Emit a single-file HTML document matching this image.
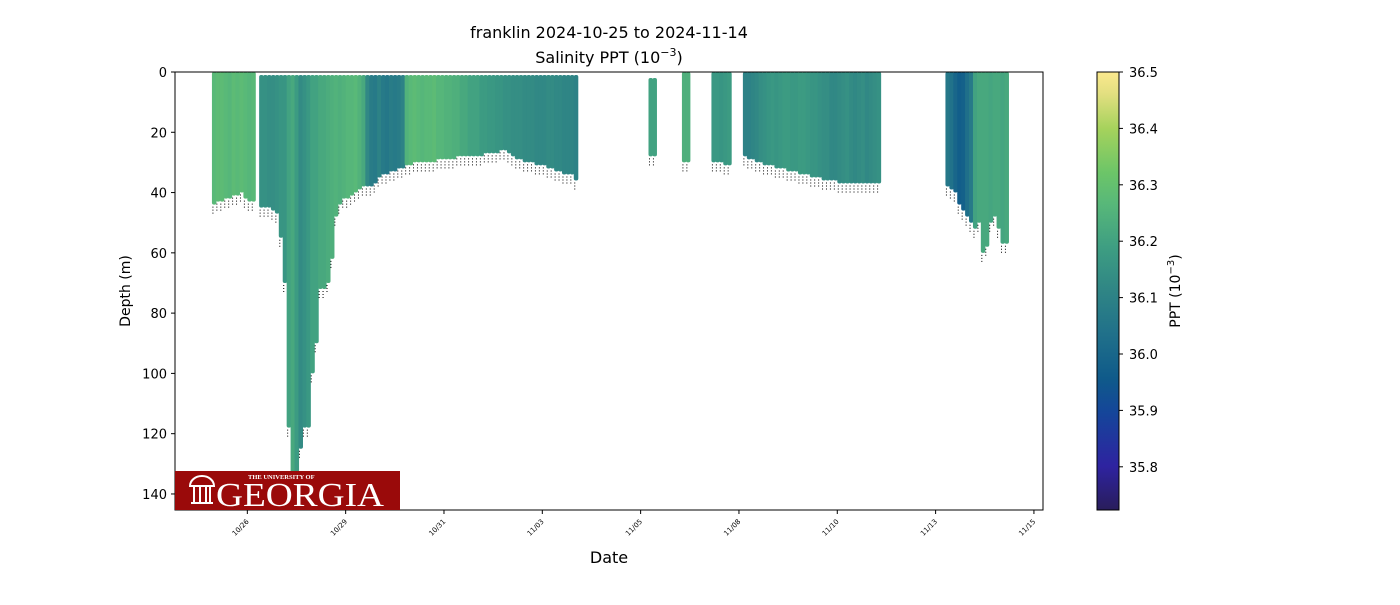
<!DOCTYPE html>
<html><head><meta charset="utf-8"><style>
body{margin:0;background:#fff;font-family:"Liberation Sans","DejaVu Sans",sans-serif}
</style></head><body>
<svg id="chart" width="1400" height="600" xmlns="http://www.w3.org/2000/svg" font-family="DejaVu Sans, Liberation Sans, sans-serif">
<defs><linearGradient id="cbgrad" x1="0" y1="1" x2="0" y2="0"></linearGradient>
<clipPath id="plotclip"><rect x="175" y="72" width="868" height="438"/></clipPath></defs>
<text x="609" y="38" font-size="16" text-anchor="middle">franklin 2024-10-25 to 2024-11-14</text>
<text x="609" y="63" font-size="16" text-anchor="middle">Salinity PPT (10<tspan dy="-7" font-size="11">−3</tspan><tspan dy="7">)</tspan></text>
<g id="marks" clip-path="url(#plotclip)"></g>
<g id="axes"></g>
<g>
<rect x="175" y="471" width="225" height="39" fill="#9a0a0a"/>
<text x="248" y="479" font-family="Liberation Serif, serif" font-size="6.5" fill="#fff" font-weight="bold">THE UNIVERSITY OF</text>
<text x="216" y="506" font-family="Liberation Serif, serif" font-size="34" fill="#fff" textLength="168" lengthAdjust="spacingAndGlyphs">GEORGIA</text>
<path d="M191 504h22v-2h-22zM193 502v-16h2v16zM199 502v-16h2v16zM205 502v-16h2v16zM211 502v-16h-2v16z" fill="#fff"/>
<path d="M190 486a12 10 0 0 1 24 0z" fill="none" stroke="#fff" stroke-width="2"/>
</g>
<text x="609" y="563" font-size="16" text-anchor="middle">Date</text>
<text x="130" y="291" font-size="14" text-anchor="middle" transform="rotate(-90 130 291)">Depth (m)</text>
<rect x="1097" y="72" width="22" height="438" fill="url(#cbgrad)" stroke="#000" stroke-width="1"/>
<g id="cbticks"></g>
<text x="1180" y="291" font-size="14" text-anchor="middle" transform="rotate(-90 1180 291)">PPT (10<tspan dy="-6" font-size="10">−3</tspan><tspan dy="6">)</tspan></text>
</svg>
<script>
// x-axis ticks (days since 2024-10-25 00:00)
const xTickDays=[1,3.5,6,8.5,11,13.5,16,18.5,21];
const xTickLabels=["10/26","10/29","10/31","11/03","11/05","11/08","11/10","11/13","11/15"];
const yTicks=[0,20,40,60,80,100,120,140];
const cbTicks=[35.8,35.9,36.0,36.1,36.2,36.3,36.4,36.5];
const step=0.1;
// segments: start day, bottom depths per column, salinity per column, top depth
const segStarts=[0.1,1.3,11.2,12.05,12.8,13.6,18.75];
const segTops=[0,1,2,0,0,0,0];
const segDepths=[
[44,43,43,42,42,41,41,40,42,43,43],
[45,45,45,46,47,55,70,118,145,145,125,118,118,100,90,72,72,70,62,48,44,42,42,41,40,39,38,38,38,37,35,34,34,33,33,32,32,31,31,30,30,30,30,30,30,29,29,29,29,29,28,28,28,28,28,28,28,27,27,27,27,26,26,27,28,29,29,30,30,30,31,31,31,32,32,33,33,34,34,34,36],
[28,28],
[30,30],
[30,30,30,31,31],
[28,29,29,30,30,31,31,31,32,32,32,33,33,33,34,34,34,35,35,35,36,36,36,36,37,37,37,37,37,37,37,37,37,37,37],
[38,39,40,44,46,48,50,52,50,60,58,50,48,52,57,57]
];
const segSal=[
[36.27,36.28,36.28,36.27,36.26,36.28,36.27,36.28,36.27,36.26,36.27],
[36.15,36.15,36.14,36.14,36.15,36.16,36.16,36.2,36.22,36.18,36.13,36.15,36.17,36.2,36.2,36.22,36.22,36.23,36.24,36.25,36.24,36.25,36.26,36.26,36.27,36.25,36.22,36.12,36.08,36.07,36.1,36.07,36.06,36.08,36.07,36.08,36.1,36.25,36.27,36.28,36.27,36.26,36.27,36.27,36.28,36.26,36.26,36.25,36.25,36.24,36.24,36.22,36.22,36.2,36.2,36.2,36.18,36.18,36.17,36.17,36.16,36.16,36.15,36.15,36.14,36.14,36.14,36.13,36.13,36.13,36.12,36.12,36.12,36.13,36.13,36.12,36.12,36.11,36.11,36.11,36.1],
[36.2,36.2],
[36.24,36.24],
[36.17,36.17,36.16,36.17,36.18],
[36.1,36.1,36.11,36.12,36.14,36.15,36.16,36.17,36.16,36.17,36.18,36.18,36.17,36.17,36.18,36.18,36.17,36.16,36.16,36.15,36.14,36.14,36.12,36.12,36.13,36.14,36.15,36.13,36.12,36.13,36.14,36.12,36.13,36.14,36.15],
[36.06,36.04,36.0,35.97,35.98,36.03,36.07,36.2,36.22,36.22,36.22,36.21,36.22,36.22,36.21,36.22]
];
const stops=[[0,"#291d5b"],[0.1,"#2e23a0"],[0.22,"#15459a"],[0.3,"#0f5a8a"],[0.4,"#20708a"],[0.5,"#2f8585"],[0.6,"#3e9e82"],[0.7,"#58b879"],[0.77,"#6cc568"],[0.87,"#a5d25c"],[0.95,"#e2df80"],[1,"#fbe98e"]];
const vmin=35.723,vmax=36.5;
const NS="http://www.w3.org/2000/svg";
const xs=d=>208+39.33*d;
const ys=m=>72+3.014*m;
const cy=v=>72+(vmax-v)*564;
function hex(h){return [1,3,5].map(i=>parseInt(h.substr(i,2),16));}
function cmap(v){let t=Math.max(0,Math.min(1,(v-vmin)/(vmax-vmin)));
 for(let i=1;i<stops.length;i++){if(t<=stops[i][0]){const a=stops[i-1],b=stops[i];const f=(t-a[0])/(b[0]-a[0]);const A=hex(a[1]),B=hex(b[1]);return "rgb("+A.map((c,k)=>Math.round(c+(B[k]-c)*f)).join(",")+")";}}
 return stops[stops.length-1][1];}
function mk(tag,at,parent){const e=document.createElementNS(NS,tag);for(const k in at)e.setAttribute(k,at[k]);parent.appendChild(e);return e;}
const grad=document.getElementById('cbgrad');
stops.forEach(s=>mk('stop',{offset:s[0],'stop-color':s[1]},grad));
const marks=document.getElementById('marks');
segStarts.forEach((s0,si)=>{
 segDepths[si].forEach((dep,j)=>{
  const d=s0+j*step;
  const x=xs(d),w=xs(d+step)-x+0.6;
  const r=mk('rect',{x:x,y:ys(segTops[si]),width:w,height:ys(dep)-ys(segTops[si]),fill:cmap(segSal[si][j]),rx:2},marks);
  
  
  const b=mk('line',{x1:x+1,x2:x+1,y1:ys(dep)+2,y2:ys(dep)+9,stroke:"#000","stroke-width":1,"stroke-dasharray":"1 2"},marks);
  
  
 });
});
const axes=document.getElementById('axes');
const frame=mk('rect',{x:175,y:72,width:868,height:438,fill:"none",stroke:"#000","stroke-width":1},axes);


xTickDays.forEach((d,i)=>{const x=xs(d);
 mk('line',{x1:x,x2:x,y1:510,y2:514,stroke:"#000"},axes);
 const t=mk('text',{x:x+2,y:522,"font-size":7,"text-anchor":"end",transform:`rotate(-45 ${x+2} 522)`},axes);
 t.textContent=xTickLabels[i];
 
 });
yTicks.forEach(v=>{const y=ys(v);
 mk('line',{x1:171,x2:175,y1:y,y2:y,stroke:"#000"},axes);
 const t=mk('text',{x:167,y:y+5,"font-size":13,"text-anchor":"end"},axes);
 t.textContent=v;
 
 });
const cbt=document.getElementById('cbticks');
cbTicks.forEach(v=>{const y=cy(v);
 mk('line',{x1:1119,x2:1123,y1:y,y2:y,stroke:"#000"},cbt);
 const t=mk('text',{x:1129,y:y+5,"font-size":13},cbt);
 t.textContent=v.toFixed(1);
 
 });
</script>
</body></html>
